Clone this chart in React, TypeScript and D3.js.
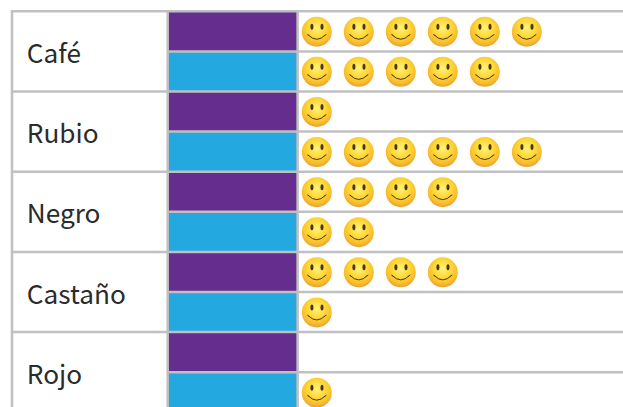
import React from "react";
import * as d3 from "d3";

const categories = ["Café", "Rubio", "Negro", "Castaño", "Rojo"];
const seriesA = [6, 1, 4, 4, 0];
const seriesB = [5, 6, 2, 1, 1];
const seriesColors = ["#652d8e", "#23a8e0"];
const gridColor = "#c0c0c4";

const W = 623, H = 407;
const rowBand = d3.scaleLinear().domain([0, 10]).range([11.3, 412.3]);
const iconX = d3.scaleLinear().domain([0, 5]).range([316.8, 526.8]);

function Smiley({ cx, cy }: { cx: number; cy: number }) {
  return (
    <g transform={`translate(${cx},${cy})`}>
      <circle r={15} fill="url(#smile)" />
      <ellipse cx={-4.9} cy={-5} rx={1.5} ry={3} fill="#4a3510" />
      <ellipse cx={5.2} cy={-5} rx={1.5} ry={3} fill="#4a3510" />
      <path d="M-8.5,3.3 Q0,12 8.5,3.3" fill="none" stroke="#4a3510" strokeWidth={1} strokeLinecap="round" />
      <path d="M-9.6,2.6 l2,1.4 M9.6,2.6 l-2,1.4" stroke="#4a3510" strokeWidth={0.8} />
    </g>
  );
}

export default function App() {
  const rows = categories.flatMap((c, i) => [
    { cat: c, s: 0, n: seriesA[i], idx: i * 2 },
    { cat: c, s: 1, n: seriesB[i], idx: i * 2 + 1 },
  ]);
  return (
    <svg width={W} height={H} style={{ position: "fixed", left: 0, top: 0, background: "#fff" }}>
      <defs>
        <radialGradient id="smile" cx="50%" cy="38%" r="64%">
          <stop offset="0%" stopColor="#fff27a" />
          <stop offset="45%" stopColor="#fdd93a" />
          <stop offset="78%" stopColor="#f8bd2c" />
          <stop offset="100%" stopColor="#e59a38" />
        </radialGradient>
      </defs>
      {rows.map((r) => (
        <rect key={r.idx} x={168} y={rowBand(r.idx)} width={129} height={rowBand(r.idx + 1) - rowBand(r.idx)} fill={seriesColors[r.s]} />
      ))}
      {d3.range(0, 11).map((i) => (
        <line key={i} x1={i % 2 === 0 ? 12 : 167} x2={W} y1={rowBand(i)} y2={rowBand(i)} stroke={gridColor} strokeWidth={2.5} />
      ))}
      {[12, 167.7, 297.6].map((x) => (
        <line key={x} x1={x} x2={x} y1={10} y2={H} stroke={gridColor} strokeWidth={2.5} />
      ))}
      {categories.map((c, i) => (
        <text key={c} x={26.8} y={(rowBand(i * 2) + rowBand(i * 2 + 2)) / 2 + 11.5} fontFamily="'Noto Sans CJK SC'" fontSize={26.2} fill="#2b2b2b">
          {c}
        </text>
      ))}
      {rows.flatMap((r) =>
        d3.range(r.n).map((k) => (
          <Smiley key={`${r.idx}-${k}`} cx={iconX(k)} cy={(rowBand(r.idx) + rowBand(r.idx + 1)) / 2 + 0.4} />
        ))
      )}
    </svg>
  );
}
